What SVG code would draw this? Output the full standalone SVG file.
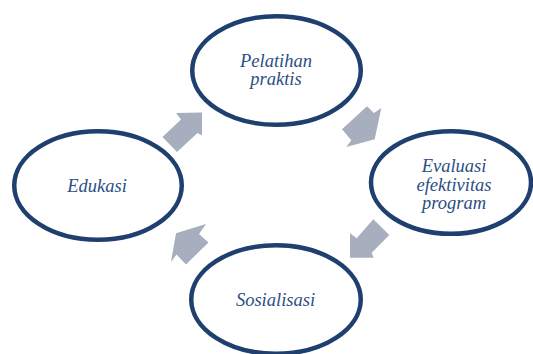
<svg xmlns="http://www.w3.org/2000/svg" width="533" height="354" viewBox="0 0 533 354">
<style>
.node ellipse{fill:#ffffff;stroke:#1f3f6e;stroke-width:4.5}
.node text{font-family:"Liberation Serif","Times New Roman",serif;font-style:italic;font-size:18.5px;fill:#2c4f84;text-anchor:middle}
.arrow{fill:#a7aebd;stroke:none}
</style>
<rect width="533" height="354" fill="#ffffff"/>
<g id="connectors">
<polygon class="arrow" points="202,112.5 176,113 181,119.5 162.5,137 177,152 197.5,133 202,135.5"/>
<polygon class="arrow" points="342,129.3 367,106.3 374,113 381.3,108 374.7,139.3 346.3,147 351.3,140.3"/>
<polygon class="arrow" points="373.3,219.3 389.3,235 371.7,252.7 373.5,257.7 350,257.7 350,233.3 356.7,238.3"/>
<polygon class="arrow" points="176,233.3 206,224 199,234 208.5,242.5 186,264.5 176.5,254.5 171,262"/>
</g>
<g id="node-pelatihan" class="node">
<ellipse cx="276.5" cy="70.5" rx="84.25" ry="54.25"/>
<text x="276" y="66.7">Pelatihan</text>
<text x="276" y="85">praktis</text>
</g>
<g id="node-evaluasi" class="node">
<ellipse cx="451" cy="182.5" rx="80" ry="51.25"/>
<text x="454" y="172.3">Evaluasi</text>
<text x="454" y="191">efektivitas</text>
<text x="454" y="209.3">program</text>
</g>
<g id="node-sosialisasi" class="node">
<ellipse cx="276" cy="299.5" rx="84.75" ry="54.25"/>
<text x="275.5" y="306">Sosialisasi</text>
</g>
<g id="node-edukasi" class="node">
<ellipse cx="98" cy="185.5" rx="83.75" ry="54.25"/>
<text x="97" y="191.7">Edukasi</text>
</g>
</svg>
